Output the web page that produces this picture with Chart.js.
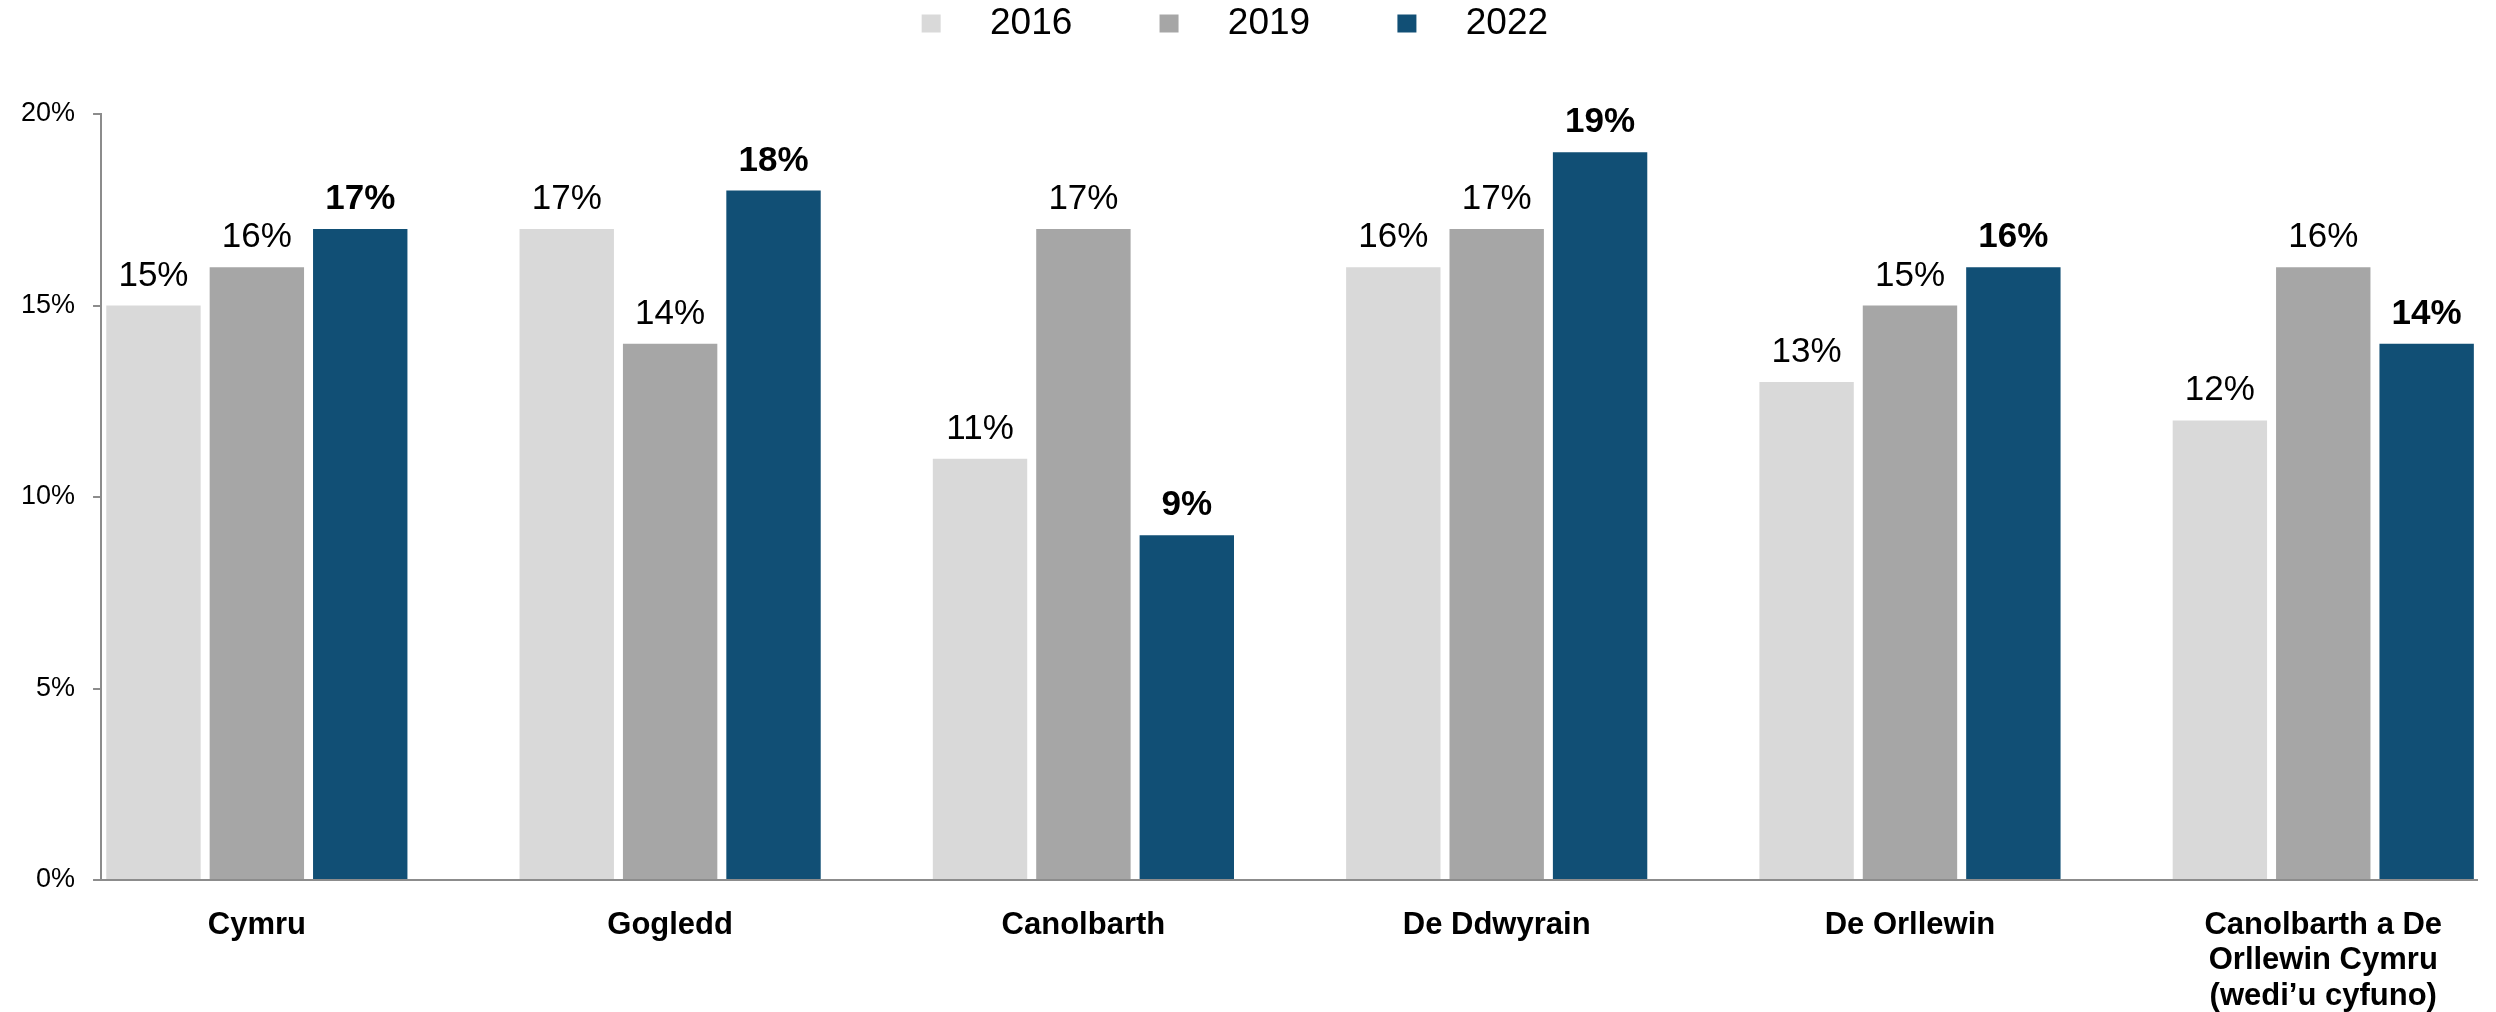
<!DOCTYPE html>
<html>
<head>
<meta charset="utf-8">
<script src="https://cdn.jsdelivr.net/npm/chart.js@4"></script>
<style>
  body { margin: 0; background: #fff; }
  #holder { width: 2496px; height: 1012px; }
</style>
</head>
<body>
<div id="holder"><canvas id="c1"></canvas></div>
<script>
// regions, one group of bars each
var categories = ["Cymru", "Gogledd", "Canolbarth", "De Ddwyrain", "De Orllewin",
    ["Canolbarth a De", "Orllewin Cymru", "(wedi\u2019u cyfuno)"]];
var years = ["2016", "2019", "2022"];
var v2016 = [15, 17, 11, 16, 13, 12];
var v2019 = [16, 14, 17, 17, 15, 16];
var v2022 = [17, 18, 9, 19, 16, 14];
var yTicks = [0, 5, 10, 15, 20];

var colors = ["#d9d9d9", "#a6a6a6", "#114f75"];
var axisGrey = "#8c8c8c";
var xMin = -0.377, xMax = 5.372;

Chart.defaults.font.family = "'Liberation Sans', Arial, sans-serif";
Chart.defaults.color = "#000";

function toPoints(arr) {
    return arr.map((v, i) => ({x: i, y: v}));
}

// push the plot down below the legend
var legendSpace = {
    id: "legendSpace",
    beforeInit(chart) {
        let fit = chart.legend.fit;
        chart.legend.fit = function() {
            fit.bind(chart.legend)();
            this.height = 114;
        };
    }
};

// value labels over the bars
var valueLabels = {
    id: "valueLabels",
    afterDatasetsDraw(chart) {
        let ctx = chart.ctx;
        ctx.save();
        ctx.textAlign = "center";
        ctx.textBaseline = "alphabetic";
        ctx.fillStyle = "#000";
        chart.data.datasets.forEach((ds, i) => {
            let meta = chart.getDatasetMeta(i);
            ctx.font = (i == 2 ? "bold " : "") + "35px 'Liberation Sans', Arial, sans-serif";
            meta.data.forEach((bar, j) => {
                ctx.fillText(ds.data[j].y + "%", bar.x, bar.y - 20);
            });
        });
        ctx.restore();
    }
};

var datasets = [v2016, v2019, v2022].map((arr, i) => ({
    label: years[i],
    data: toPoints(arr),
    backgroundColor: colors[i],
    borderWidth: 0,
    categoryPercentage: 0.7505,
    barPercentage: 0.913
}));

var chart1 = new Chart(document.getElementById("c1"), {
    type: "bar",
    data: { datasets: datasets },
    plugins: [legendSpace, valueLabels],
    options: {
        responsive: true,
        maintainAspectRatio: false,
        animation: false,
        layout: { padding: { left: 3, right: 19, top: 0, bottom: 0 } },
        plugins: {
            tooltip: { enabled: false },
            legend: {
                position: "top",
                labels: {
                    boxWidth: 19,
                    boxHeight: 18,
                    padding: 5,
                    color: "#000",
                    font: { size: 37 },
                    generateLabels: (chart) => {
                        let items = Chart.defaults.plugins.legend.labels.generateLabels(chart);
                        items.forEach((it, i) => {
                            it.text = "   " + it.text + (i < items.length - 1 ? "        " : " ");
                        });
                        return items;
                    }
                }
            }
        },
        scales: {
            x: {
                type: "linear",
                min: xMin,
                max: xMax,
                offset: false,
                afterBuildTicks: (scale) => {
                    scale.ticks = categories.map((c, i) => ({value: i}));
                },
                afterFit: (scale) => { scale.height = 132; },
                grid: { display: false },
                border: { color: axisGrey, width: 2 },
                ticks: {
                    autoSkip: false,
                    maxRotation: 0,
                    minRotation: 0,
                    padding: 19,
                    color: "#000",
                    font: { size: 31, weight: "bold", lineHeight: 1.16 },
                    callback: (v) => categories[v]
                }
            },
            y: {
                min: 0,
                max: 20,
                afterBuildTicks: (scale) => {
                    scale.ticks = yTicks.map(v => ({value: v}));
                },
                grid: {
                    drawOnChartArea: false,
                    tickLength: 8,
                    lineWidth: 2,
                    color: axisGrey
                },
                border: { color: axisGrey, width: 2 },
                ticks: {
                    padding: 18,
                    color: "#000",
                    font: { size: 27 },
                    callback: (v) => v + "%"
                }
            }
        }
    }
});
</script>
</body>
</html>
